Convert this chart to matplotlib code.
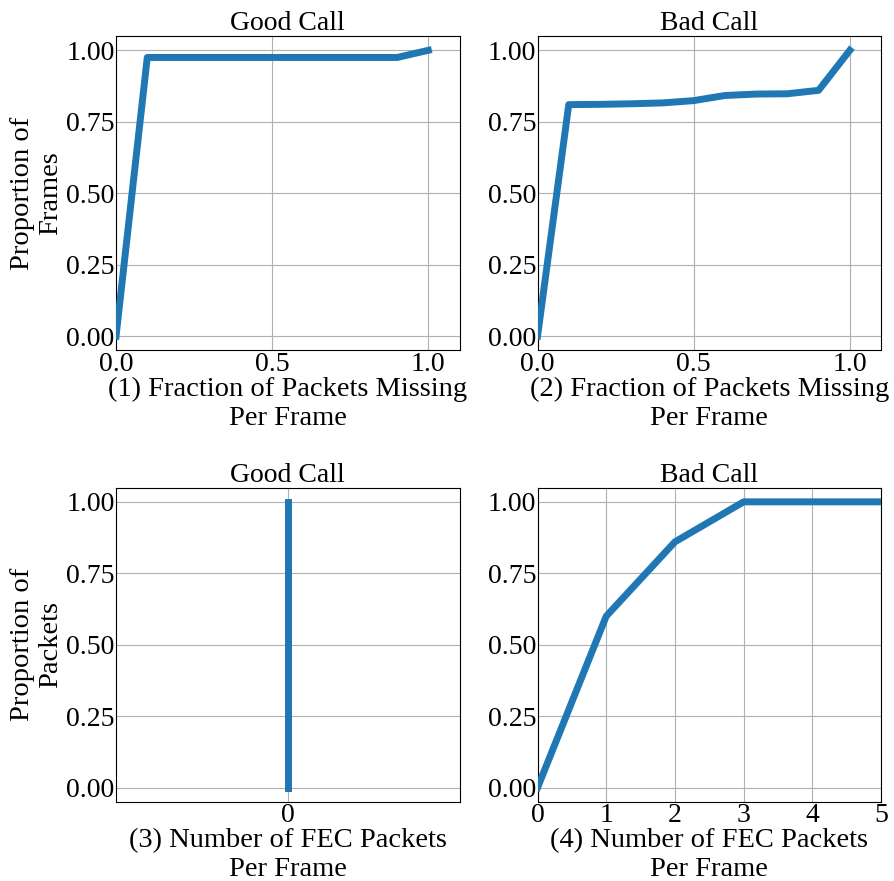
import matplotlib
matplotlib.use("Agg")
import matplotlib.pyplot as plt

plt.rcParams['font.family'] = ['Liberation Serif', 'DejaVu Serif']
plt.rcParams['font.size'] = 20

# CDF of fraction of packets missing per frame
missing_x = [0.0, 0.1, 0.2, 0.3, 0.4, 0.5, 0.6, 0.7, 0.8, 0.9, 1.0]
good_missing = [0.0, 0.975, 0.975, 0.975, 0.975, 0.975, 0.975, 0.975, 0.975, 0.975, 1.0]
bad_missing = [0.0, 0.81, 0.811, 0.813, 0.816, 0.824, 0.842, 0.847, 0.848, 0.86, 1.0]

# CDF of number of FEC packets per frame
good_fec_x = [0, 0]
good_fec = [0.0, 1.0]
bad_fec_x = [0, 1, 2, 3, 4, 5]
bad_fec = [0.0, 0.60, 0.86, 1.0, 1.0, 1.0]

titles = ["Good Call", "Bad Call", "Good Call", "Bad Call"]
xlabels = ["(1) Fraction of Packets Missing\nPer Frame",
           "(2) Fraction of Packets Missing\nPer Frame",
           "(3) Number of FEC Packets\nPer Frame",
           "(4) Number of FEC Packets\nPer Frame"]
ylabels = ["Proportion of\nFrames", None, "Proportion of\nPackets", None]
yticks = [0.0, 0.25, 0.5, 0.75, 1.0]

fig, axes = plt.subplots(2, 2, figsize=(8.94, 8.81), dpi=100)
fig.subplots_adjust(left=0.1298, right=0.9855, top=0.9591, bottom=0.0897,
                    wspace=0.227, hspace=0.436)

series = [(missing_x, good_missing), (missing_x, bad_missing),
          (good_fec_x, good_fec), (bad_fec_x, bad_fec)]

for i, ax in enumerate(axes.flat):
    x, y = series[i]
    ax.plot(x, y, color='#1f77b4', linewidth=5, zorder=3)
    ax.set_title(titles[i], fontsize=20, pad=2)
    ax.set_xlabel(xlabels[i], labelpad=0, fontsize=20.5)
    if ylabels[i]:
        ax.set_ylabel(ylabels[i], labelpad=2, fontsize=20.5)
    ax.set_yticks(yticks)
    ax.set_yticklabels([f"{v:.2f}" for v in yticks])
    ax.set_ylim(-0.05, 1.05)
    ax.grid(True, color='#b0b0b0', linewidth=0.8)
    ax.set_axisbelow(True)
    ax.tick_params(length=0, pad=1)

for ax in axes[0]:
    ax.set_xlim(0, 1.1)
    ax.set_xticks([0.0, 0.5, 1.0])

axes[1, 0].set_xlim(-0.055, 0.055)
axes[1, 0].set_xticks([0])
axes[1, 1].set_xlim(0, 5)
axes[1, 1].set_xticks(bad_fec_x)

fig.savefig("out.png", dpi=100)
